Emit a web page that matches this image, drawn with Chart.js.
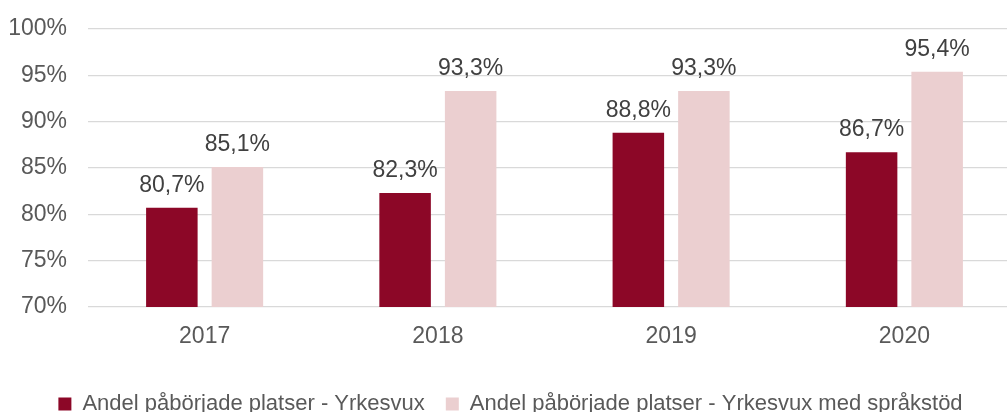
<!DOCTYPE html>
<html>
<head>
<meta charset="utf-8">
<script src="https://cdn.jsdelivr.net/npm/chart.js@4"></script>
<style>
  html, body { margin: 0; padding: 0; background: #fff; overflow: hidden; }
  #wrap { width: 1022px; height: 425px; position: relative; }
</style>
</head>
<body>
<div id="wrap"><canvas id="c"></canvas></div>
<script>
const categories = ['2017', '2018', '2019', '2020'];
const seriesNames = ['Andel påbörjade platser - Yrkesvux', 'Andel påbörjade platser - Yrkesvux med språkstöd'];
const yrkesvux = [80.7, 82.3, 88.8, 86.7];
const yrkesvuxSprakstod = [85.1, 93.3, 93.3, 95.4];
const yMin = 70, yMax = 100, yStep = 5;

const FONT = '"Liberation Sans", Arial, sans-serif';

const fmt = v => v.toFixed(1).replace('.', ',') + '%';

const dataLabels = {
  id: 'dataLabels',
  afterDatasetsDraw(chart) {
    const ctx = chart.ctx;
    ctx.save();
    ctx.font = '23px ' + FONT;
    ctx.fillStyle = '#404040';
    ctx.textAlign = 'center';
    ctx.textBaseline = 'alphabetic';
    chart.data.datasets.forEach((ds, i) => {
      chart.getDatasetMeta(i).data.forEach((bar, j) => {
        ctx.fillText(fmt(ds.data[j]), bar.x, bar.y - 16);
      });
    });
    ctx.restore();
  }
};

new Chart(document.getElementById('c'), {
  type: 'bar',
  data: {
    labels: categories,
    datasets: [
      { label: seriesNames[0], data: yrkesvux, backgroundColor: '#8c0727',
        categoryPercentage: 0.562, barPercentage: 0.786 },
      { label: seriesNames[1], data: yrkesvuxSprakstod, backgroundColor: '#ebcfd0',
        categoryPercentage: 0.562, barPercentage: 0.786 }
    ]
  },
  options: {
    responsive: true,
    maintainAspectRatio: false,
    animation: false,
    layout: { padding: { top: 29, right: 1, left: 0, bottom: 0 } },
    plugins: {
      legend: {
        position: 'bottom',
        labels: {
          font: { family: FONT, size: 22 },
          color: '#595959',
          boxWidth: 13,
          boxHeight: 13,
          padding: 21
        }
      },
      tooltip: { enabled: false }
    },
    scales: {
      x: {
        grid: { display: false, drawTicks: false },
        border: { display: false },
        ticks: { font: { family: FONT, size: 23 }, color: '#595959', padding: 16 },
        afterFit(s) { s.height = 65; }
      },
      y: {
        min: yMin, max: yMax,
        grid: { color: '#d9d9d9', lineWidth: 1.3, drawTicks: false },
        border: { display: false },
        ticks: { stepSize: yStep, font: { family: FONT, size: 23 }, color: '#595959', padding: 21,
                 callback: v => v + '%' },
        afterFit(s) { s.width = 88; s.paddingTop = 5; s.paddingBottom = 5; }
      }
    }
  },
  plugins: [dataLabels]
});
</script>
</body>
</html>
